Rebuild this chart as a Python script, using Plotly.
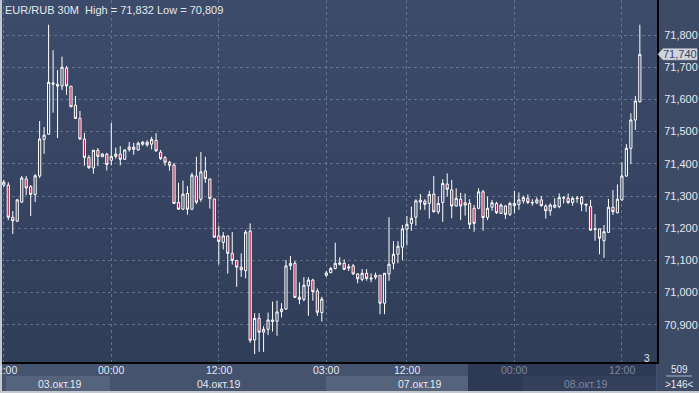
import plotly.graph_objects as go

# ---------------- data (EUR/RUB, 30-minute bars) ----------------
opens = [71.334, 71.334, 71.234, 71.222, 71.281, 71.353, 71.329, 71.305, 71.362, 71.476,
         71.492, 71.647, 71.641, 71.642, 71.697, 71.641, 71.582, 71.541, 71.477, 71.420,
         71.387, 71.442, 71.422, 71.430, 71.411, 71.423, 71.430, 71.414, 71.444, 71.452,
         71.443, 71.461, 71.467, 71.461, 71.473, 71.436, 71.419, 71.405, 71.396, 71.280,
         71.259, 71.308, 71.259, 71.362, 71.290, 71.378, 71.353, 71.291, 71.176, 71.156,
         71.176, 71.122, 71.100, 71.079, 71.068, 71.191, 70.853, 70.920, 70.877, 70.886,
         70.910, 70.911, 70.941, 70.949, 71.084, 71.091, 70.986, 70.979, 71.021, 71.039,
         71.005, 70.938, 71.054, 71.062, 71.075, 71.088, 71.091, 71.076, 71.083, 71.058,
         71.041, 71.060, 71.042, 71.048, 71.054, 70.967, 71.058, 71.091, 71.119, 71.141,
         71.197, 71.215, 71.234, 71.281, 71.284, 71.277, 71.306, 71.251, 71.280, 71.337,
         71.319, 71.269, 71.290, 71.279, 71.277, 71.262, 71.262, 71.313, 71.233, 71.265,
         71.277, 71.246, 71.269, 71.243, 71.270, 71.274, 71.285, 71.293, 71.278, 71.279,
         71.288, 71.269, 71.254, 71.265, 71.267, 71.293, 71.293, 71.280, 71.292, 71.296,
         71.275, 71.267, 71.196, 71.198, 71.161, 71.187, 71.265, 71.248, 71.288, 71.362,
         71.448, 71.536, 71.593]
highs = [71.350, 71.343, 71.253, 71.291, 71.362, 71.362, 71.334, 71.368, 71.533, 71.514,
         71.832, 71.753, 71.691, 71.733, 71.704, 71.642, 71.611, 71.564, 71.496, 71.427,
         71.443, 71.449, 71.434, 71.434, 71.527, 71.450, 71.455, 71.444, 71.468, 71.465,
         71.469, 71.471, 71.473, 71.484, 71.495, 71.443, 71.424, 71.409, 71.403, 71.341,
         71.348, 71.331, 71.372, 71.422, 71.437, 71.422, 71.353, 71.291, 71.207, 71.188,
         71.176, 71.188, 71.100, 71.122, 71.194, 71.215, 70.936, 70.936, 70.896, 70.938,
         70.972, 70.975, 70.967, 71.101, 71.114, 71.098, 71.032, 71.048, 71.048, 71.043,
         71.013, 70.987, 71.067, 71.080, 71.155, 71.110, 71.103, 71.089, 71.089, 71.060,
         71.073, 71.073, 71.060, 71.062, 71.054, 71.060, 71.234, 71.160, 71.160, 71.210,
         71.238, 71.267, 71.290, 71.306, 71.290, 71.316, 71.362, 71.298, 71.352, 71.370,
         71.350, 71.324, 71.310, 71.308, 71.290, 71.272, 71.324, 71.319, 71.298, 71.288,
         71.282, 71.277, 71.272, 71.282, 71.316, 71.311, 71.301, 71.305, 71.290, 71.296,
         71.300, 71.274, 71.277, 71.293, 71.308, 71.300, 71.308, 71.298, 71.300, 71.300,
         71.275, 71.288, 71.244, 71.198, 71.210, 71.291, 71.319, 71.336, 71.405, 71.461,
         71.557, 71.611, 71.832]
lows = [71.328, 71.225, 71.182, 71.219, 71.278, 71.303, 71.238, 71.281, 71.356, 71.431,
        71.490, 71.559, 71.480, 71.629, 71.614, 71.576, 71.539, 71.474, 71.394, 71.384,
        71.369, 71.393, 71.421, 71.379, 71.395, 71.416, 71.395, 71.413, 71.438, 71.428,
        71.440, 71.456, 71.453, 71.445, 71.438, 71.412, 71.394, 71.379, 71.275, 71.257,
        71.257, 71.242, 71.257, 71.275, 71.282, 71.341, 71.261, 71.170, 71.087, 71.134,
        71.059, 71.087, 71.018, 71.049, 71.044, 70.844, 70.809, 70.816, 70.816, 70.868,
        70.879, 70.866, 70.923, 70.946, 71.070, 70.985, 70.964, 70.973, 70.928, 70.975,
        70.928, 70.910, 71.049, 71.060, 71.072, 71.084, 71.070, 71.067, 71.055, 71.029,
        71.035, 71.037, 71.032, 71.041, 70.933, 70.933, 71.037, 71.072, 71.091, 71.101,
        71.147, 71.192, 71.208, 71.257, 71.257, 71.230, 71.249, 71.244, 71.220, 71.298,
        71.231, 71.267, 71.225, 71.239, 71.198, 71.189, 71.259, 71.192, 71.225, 71.254,
        71.244, 71.244, 71.229, 71.238, 71.246, 71.257, 71.277, 71.275, 71.270, 71.275,
        71.267, 71.230, 71.239, 71.262, 71.262, 71.277, 71.275, 71.270, 71.279, 71.253,
        71.251, 71.192, 71.161, 71.119, 71.108, 71.187, 71.241, 71.246, 71.285, 71.360,
        71.399, 71.505, 71.590]
closes = [71.343, 71.234, 71.223, 71.288, 71.356, 71.325, 71.305, 71.363, 71.477, 71.489,
          71.653, 71.651, 71.647, 71.700, 71.642, 71.577, 71.541, 71.477, 71.420, 71.388,
          71.442, 71.423, 71.430, 71.398, 71.423, 71.430, 71.414, 71.443, 71.452, 71.445,
          71.464, 71.467, 71.459, 71.476, 71.440, 71.416, 71.405, 71.395, 71.277, 71.259,
          71.306, 71.259, 71.365, 71.281, 71.375, 71.354, 71.292, 71.172, 71.159, 71.176,
          71.122, 71.100, 71.079, 71.071, 71.188, 70.852, 70.920, 70.877, 70.886, 70.915,
          70.915, 70.940, 70.949, 71.083, 71.091, 70.985, 70.979, 71.023, 71.039, 71.003,
          70.939, 70.980, 71.061, 71.075, 71.091, 71.092, 71.072, 71.080, 71.058, 71.043,
          71.060, 71.044, 71.045, 71.054, 70.967, 71.060, 71.088, 71.119, 71.144, 71.198,
          71.212, 71.231, 71.285, 71.287, 71.274, 71.305, 71.251, 71.277, 71.339, 71.321,
          71.269, 71.293, 71.269, 71.272, 71.212, 71.215, 71.313, 71.233, 71.262, 71.279,
          71.248, 71.272, 71.243, 71.277, 71.277, 71.288, 71.295, 71.280, 71.280, 71.288,
          71.270, 71.254, 71.272, 71.272, 71.295, 71.295, 71.280, 71.293, 71.293, 71.275,
          71.272, 71.194, 71.198, 71.169, 71.189, 71.265, 71.251, 71.290, 71.362, 71.448,
          71.536, 71.595, 71.740]

# bar slots of the time labels (12:00 03.10, 00:00 04.10, 12:00, 03:00 07.10, 12:00, 00:00 08.10, 12:00)
time_tick_bars = [0, 24, 48, 72, 90, 114, 138]
time_tick_labels = ["12:00", "00:00", "12:00", "03:00", "12:00", "00:00", "12:00"]
date_labels = ["03.окт.19", "04.окт.19", "07.окт.19", "08.окт.19"]
price_ticks = [70.9, 71.0, 71.1, 71.2, 71.3, 71.4, 71.5, 71.6, 71.7, 71.8]
symbol = "EUR/RUB 30M"
bars_shown = 146
corner_count = 509
small_label = "3"

# ---------------- layout geometry ----------------
W, H = 699, 393
ML, MR, MT, MB = 0, 42, 0, 31
PW, PH = W - ML - MR, H - MT - MB
Y_MIN, Y_MAX = 70.7845, 71.9087
X_MIN = -0.85
X_MAX = X_MIN + PW / 4.479

def px(x):  # pixel -> paper x
    return (x - ML) / PW

def py(y):  # pixel -> paper y
    return (MT + PH - y) / PH

def fmt(v):
    return f"{v:.3f}".replace(".", ",")

PLOT_BG = "#35435f"
AXIS_BG = "#3e4b67"
TXT = "#e4e8ef"
DIM = "#7d879c"
FONT = "Liberation Sans, Arial"

bars = list(range(len(opens)))

fig = go.Figure(go.Candlestick(
    x=bars, open=opens, high=highs, low=lows, close=closes,
    increasing=dict(line=dict(color="white", width=1), fillcolor=PLOT_BG),
    decreasing=dict(line=dict(color="white", width=1), fillcolor="#a8284f"),
    whiskerwidth=0, showlegend=False, hoverinfo="skip",
))

shapes = []
# gradient of the plot background (lighter at top)
n = 14
top = (60, 75, 105)
bot = (49, 62, 90)
for k in range(n):
    f = k / (n - 1)
    c = tuple(int(round(top[j] + (bot[j] - top[j]) * f)) for j in range(3))
    shapes.append(dict(type="rect", xref="paper", yref="paper", x0=0, x1=1,
                       y0=1 - (k + 1) / n, y1=1 - k / n, fillcolor=f"rgb{c}",
                       line=dict(width=0), layer="below"))
# bottom axis bands
shapes += [
    dict(type="rect", xref="paper", yref="paper", x0=px(0), x1=px(657), y0=py(393), y1=py(363),
         fillcolor="#45536f", line=dict(width=0), layer="below"),
    dict(type="rect", xref="paper", yref="paper", x0=px(6), x1=px(110), y0=py(391), y1=py(376),
         fillcolor="#56637d", line=dict(width=0), layer="below"),
    dict(type="rect", xref="paper", yref="paper", x0=px(326), x1=px(468), y0=py(391), y1=py(376),
         fillcolor="#56637d", line=dict(width=0), layer="below"),
    dict(type="rect", xref="paper", yref="paper", x0=px(468), x1=px(656), y0=py(393), y1=py(363),
         fillcolor="#2e3a55", line=dict(width=0), layer="below"),
    dict(type="rect", xref="paper", yref="paper", x0=px(522), x1=px(656), y0=py(391), y1=py(376),
         fillcolor="#34405b", line=dict(width=0), layer="below"),
    # left and bottom light frame
    dict(type="rect", xref="paper", yref="paper", x0=px(0), x1=px(2), y0=py(393), y1=py(0),
         fillcolor="#c3c8d1", line=dict(width=0), layer="above"),
    dict(type="rect", xref="paper", yref="paper", x0=px(0), x1=px(699), y0=py(393), y1=py(391),
         fillcolor="#c3c8d1", line=dict(width=0), layer="above"),
    # line under bar counter
    dict(type="line", xref="paper", yref="paper", x0=px(666), x1=px(692), y0=py(376), y1=py(376),
         line=dict(color="#aab2c2", width=1)),
]
# price tag for last close
last = closes[-1]
yc = (last - Y_MIN) / (Y_MAX - Y_MIN)
h = 5.5 / PH
shapes.append(dict(type="path", xref="paper", yref="paper",
                   path=f"M {px(658)},{yc} L {px(663)},{yc + h} L {px(697)},{yc + h} "
                        f"L {px(697)},{yc - h} L {px(663)},{yc - h} Z",
                   fillcolor="#cfd3db", line=dict(color="#e6e8ec", width=0.5), layer="above"))

annotations = [
    dict(xref="paper", yref="paper", x=px(3), y=py(2), xanchor="left", yanchor="top",
         text=f"{symbol}  High = {fmt(max(highs))} Low = {fmt(min(lows))}",
         showarrow=False, font=dict(family=FONT, size=11, color=TXT)),
    dict(xref="paper", yref="y", x=px(680), y=last, xanchor="center", yanchor="middle",
         text=fmt(last), showarrow=False, font=dict(family=FONT, size=11, color="#3a4560")),
    dict(xref="paper", yref="paper", x=px(647), y=py(358), xanchor="center", yanchor="middle",
         text=small_label, showarrow=False, font=dict(family=FONT, size=10, color=TXT)),
    dict(xref="paper", yref="paper", x=px(679), y=py(369), xanchor="center", yanchor="middle",
         text=str(corner_count), showarrow=False, font=dict(family=FONT, size=10, color=TXT)),
    dict(xref="paper", yref="paper", x=px(679), y=py(384), xanchor="center", yanchor="middle",
         text=f"&gt;{bars_shown}&lt;", showarrow=False, font=dict(family=FONT, size=10, color=TXT)),
]
# time labels (bottom axis, first row)
for i, (b, t) in enumerate(zip(time_tick_bars, time_tick_labels)):
    annotations.append(dict(xref="x", yref="paper", x=b, y=py(369.5), xanchor="center",
                            yanchor="middle", text=t, showarrow=False,
                            font=dict(family=FONT, size=10.5, color=DIM if i >= 5 else TXT)))
# date labels (bottom axis, second row)
date_x = [60, 219, 420, 586]
for i, (d, x) in enumerate(zip(date_labels, date_x)):
    annotations.append(dict(xref="paper", yref="paper", x=px(x), y=py(383.5),
                            xanchor="center", yanchor="middle", text=d, showarrow=False,
                            font=dict(family=FONT, size=10.5, color=DIM if i == 3 else TXT)))

fig.update_layout(
    width=W, height=H, autosize=False,
    margin=dict(l=ML, r=MR, t=MT, b=MB, pad=0),
    paper_bgcolor=AXIS_BG, plot_bgcolor=PLOT_BG,
    separators=", ",
    showlegend=False,
    shapes=shapes, annotations=annotations,
    xaxis=dict(range=[X_MIN, X_MAX], tickvals=time_tick_bars, showticklabels=False,
               automargin=False,
               showgrid=True, gridcolor="rgba(140,155,185,0.5)", gridwidth=1, griddash="3px,3px",
               showline=True, linecolor="black", linewidth=2, mirror=False,
               ticks="", zeroline=False, rangeslider=dict(visible=False)),
    yaxis=dict(range=[Y_MIN, Y_MAX], side="right", tickvals=price_ticks, tickformat=".3f",
               automargin=False,
               showgrid=True, gridcolor="rgba(140,155,185,0.5)", gridwidth=1, griddash="3px,3px",
               showline=True, linecolor="black", linewidth=2,
               ticks="", zeroline=False, ticklabelstandoff=3,
               tickfont=dict(family=FONT, size=11, color=TXT)),
)

fig.write_html("out.html")
